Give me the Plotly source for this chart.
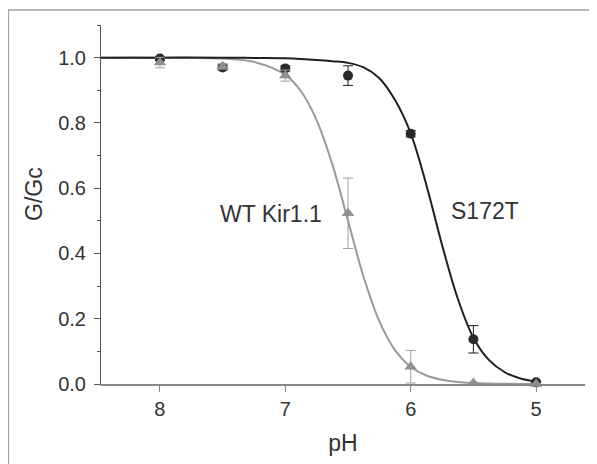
import plotly.graph_objects as go

# measured points
ph = [8.0, 7.5, 7.0, 6.5, 6.0, 5.5, 5.0]
s172t = [0.997, 0.970, 0.967, 0.945, 0.767, 0.137, 0.005]
s172t_err = [0.006, 0.008, 0.008, 0.030, 0.010, 0.042, 0.004]
wt = [0.985, 0.973, 0.945, 0.523, 0.053, 0.003, 0.0]
wt_err = [0.016, 0.008, 0.017, 0.108, 0.050, 0.002, 0.001]

# fitted curves
fit_ph = [8.47, 8.0, 7.5, 7.25, 7.0, 6.875, 6.75, 6.625, 6.5, 6.375, 6.25, 6.125,
          6.0, 5.875, 5.75, 5.625, 5.5, 5.375, 5.25, 5.125, 5.0]
fit_s172t = [1.0, 1.0, 1.0, 0.999, 0.998, 0.996, 0.993, 0.989, 0.984, 0.970, 0.937, 0.870,
             0.768, 0.610, 0.426, 0.262, 0.142, 0.073, 0.036, 0.017, 0.008]
fit_wt = [1.0, 1.0, 0.997, 0.987, 0.947, 0.897, 0.808, 0.673, 0.500, 0.327, 0.192, 0.104,
          0.053, 0.026, 0.013, 0.006, 0.003, 0.0015, 0.0007, 0.0003, 0.0002]

dark = "#1f1f1f"
grey = "#8f8f8f"

fig = go.Figure()
fig.add_trace(go.Scatter(x=fit_ph, y=fit_wt, mode="lines", line=dict(color="#9a9a9a", width=2, shape="spline"),
                         hoverinfo="skip", showlegend=False, cliponaxis=False))
fig.add_trace(go.Scatter(x=fit_ph, y=fit_s172t, mode="lines", line=dict(color=dark, width=2, shape="spline"),
                         hoverinfo="skip", showlegend=False, cliponaxis=False))
fig.add_trace(go.Scatter(x=ph, y=s172t, mode="markers",
                         marker=dict(symbol="circle", size=10, color="#2a2a2a"),
                         error_y=dict(type="data", array=s172t_err, color=dark, thickness=1, width=5),
                         showlegend=False, cliponaxis=False))
fig.add_trace(go.Scatter(x=ph, y=wt, mode="markers",
                         marker=dict(symbol="triangle-up", size=11, color=grey),
                         error_y=dict(type="data", array=wt_err, color="#a0a0a0", thickness=1, width=5),
                         showlegend=False, cliponaxis=False))

font = "Liberation Sans, Arial, sans-serif"
fig.update_layout(
    width=589, height=456,
    margin=dict(l=93, r=12, t=17, b=80, autoexpand=False),
    paper_bgcolor="white", plot_bgcolor="white",
    font=dict(family=font, color="#333333", size=20),
    xaxis=dict(range=[8.47, 4.61], tickvals=[8, 7, 6, 5], ticktext=["8", "7", "6", "5"],
               showline=True, linecolor="#888888", linewidth=1.5, ticks="outside", ticklen=6,
               tickcolor="#888888", showgrid=False, zeroline=False, automargin=False,
               title=dict(text="pH", font=dict(size=23), standoff=16),
               tickfont=dict(size=20)),
    yaxis=dict(range=[0, 1.1], tickvals=[0, 0.2, 0.4, 0.6, 0.8, 1.0],
               ticktext=["0.0", "0.2", "0.4", "0.6", "0.8", "1.0"],
               showline=True, linecolor="#555555", linewidth=1, ticks="outside", ticklen=6,
               tickcolor="#555555", showgrid=False, zeroline=False, automargin=False,
               ticklabelstandoff=4,
               minor=dict(tickvals=[0.1, 0.3, 0.5, 0.7, 0.9, 1.1], ticks="outside", ticklen=3,
                          tickcolor="#555555"),
               tickfont=dict(size=20)),
    annotations=[
        dict(x=-67 / 484, y=1 - 169 / 359, xref="paper", yref="paper", text="G/Gc", textangle=-90,
             xanchor="center", yanchor="middle",
             showarrow=False, font=dict(size=23, color="#333333")),
        dict(x=7.118, y=0.522, xref="x", yref="y", text="WT Kir1.1", showarrow=False,
             font=dict(size=23, color="#333333")),
        dict(x=5.404, y=0.531, xref="x", yref="y", text="S172T", showarrow=False,
             font=dict(size=23, color="#333333")),
    ],
    shapes=[dict(type="rect", xref="paper", yref="paper",
                 x0=-92.7 / 484, x1=1.2, y0=-0.5, y1=1 + 15 / 359,
                 line=dict(color="#a0a0a0", width=1.5), fillcolor="rgba(0,0,0,0)", layer="below")],
)

fig.write_html("out.html")
